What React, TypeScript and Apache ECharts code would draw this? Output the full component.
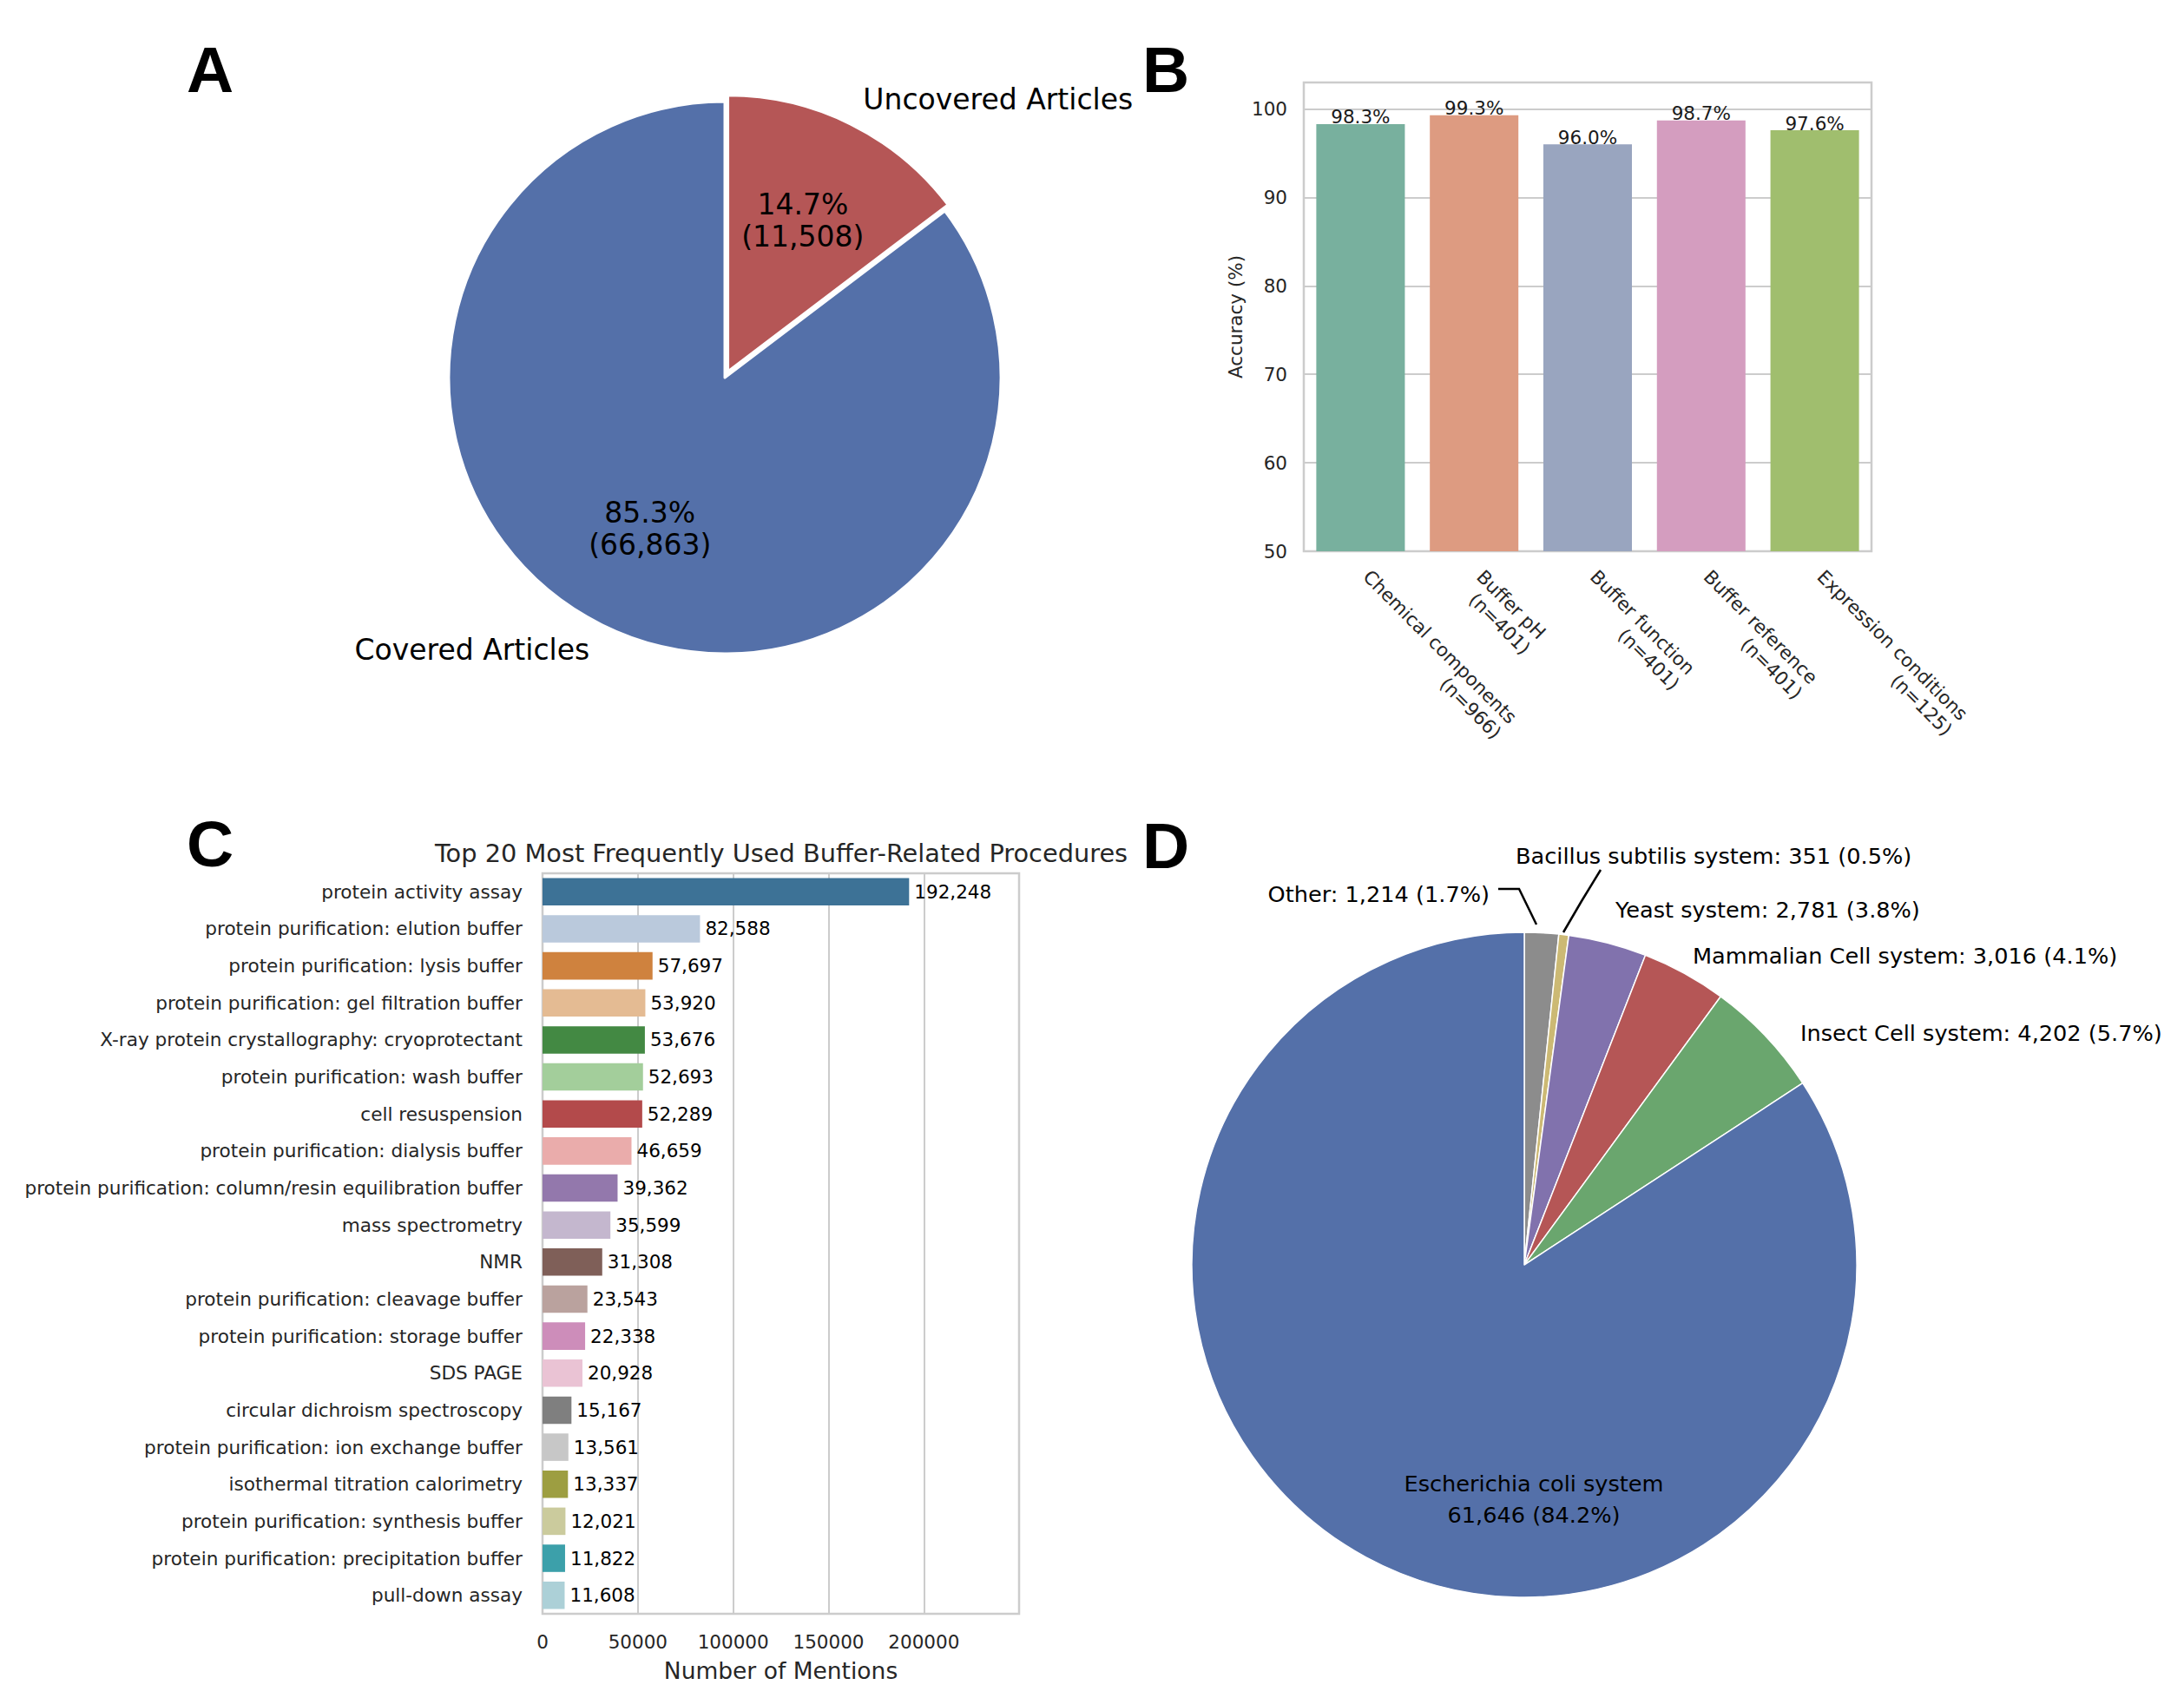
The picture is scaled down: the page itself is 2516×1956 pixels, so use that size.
import React, { useEffect, useRef } from 'react';
import * as echarts from 'echarts';

// ---------------- DATA ----------------
const A_NAMES = ['Uncovered Articles', 'Covered Articles'];
const A_VALUES = [11508, 66863];

const B_CATEGORIES = [
  'Chemical components\n(n=966)',
  'Buffer pH\n(n=401)',
  'Buffer function\n(n=401)',
  'Buffer reference\n(n=401)',
  'Expression conditions\n(n=125)',
];
const B_VALUES = [98.3, 99.3, 96.0, 98.7, 97.6];

const C_CATEGORIES = [
  'protein activity assay',
  'protein purification: elution buffer',
  'protein purification: lysis buffer',
  'protein purification: gel filtration buffer',
  'X-ray protein crystallography: cryoprotectant',
  'protein purification: wash buffer',
  'cell resuspension',
  'protein purification: dialysis buffer',
  'protein purification: column/resin equilibration buffer',
  'mass spectrometry',
  'NMR',
  'protein purification: cleavage buffer',
  'protein purification: storage buffer',
  'SDS PAGE',
  'circular dichroism spectroscopy',
  'protein purification: ion exchange buffer',
  'isothermal titration calorimetry',
  'protein purification: synthesis buffer',
  'protein purification: precipitation buffer',
  'pull-down assay',
];
const C_VALUES = [
  192248, 82588, 57697, 53920, 53676, 52693, 52289, 46659, 39362, 35599,
  31308, 23543, 22338, 20928, 15167, 13561, 13337, 12021, 11822, 11608,
];

const D_NAMES = [
  'Other',
  'Bacillus subtilis system',
  'Yeast system',
  'Mammalian Cell system',
  'Insect Cell system',
  'Escherichia coli system',
];
const D_VALUES = [1214, 351, 2781, 3016, 4202, 61646];

// ---------------- STYLE ----------------
const SET2 = ['#66c2a5', '#fc8d62', '#8da0cb', '#e78ac3', '#a6d854'];
const TAB20 = [
  '#1f77b4', '#aec7e8', '#ff7f0e', '#ffbb78', '#2ca02c', '#98df8a', '#d62728', '#ff9896',
  '#9467bd', '#c5b0d5', '#8c564b', '#c49c94', '#e377c2', '#f7b6d2', '#7f7f7f', '#c7c7c7',
  '#bcbd22', '#dbdb8d', '#17becf', '#9edae5',
];
const A_COLORS = ['#b55656', '#5470a9'];
const D_COLORS = ['#8c8c8c', '#ccb974', '#8172ad', '#b55656', '#6aa66e', '#5470a9'];
const BAR_SATURATION = 0.6;

function desat(hex: string, f: number): string {
  const r = parseInt(hex.slice(1, 3), 16) / 255;
  const g = parseInt(hex.slice(3, 5), 16) / 255;
  const b = parseInt(hex.slice(5, 7), 16) / 255;
  const mx = Math.max(r, g, b), mn = Math.min(r, g, b);
  const l = (mx + mn) / 2;
  if (mx === mn) return hex;
  const d = mx - mn;
  let s = l > 0.5 ? d / (2 - mx - mn) : d / (mx + mn);
  let h: number;
  if (mx === r) h = ((g - b) / d + (g < b ? 6 : 0)) / 6;
  else if (mx === g) h = ((b - r) / d + 2) / 6;
  else h = ((r - g) / d + 4) / 6;
  s *= f;
  const q = l < 0.5 ? l * (1 + s) : l + s - l * s;
  const p = 2 * l - q;
  const hue = (t: number) => {
    if (t < 0) t += 1;
    if (t > 1) t -= 1;
    if (t < 1 / 6) return p + (q - p) * 6 * t;
    if (t < 1 / 2) return q;
    if (t < 2 / 3) return p + (q - p) * (2 / 3 - t) * 6;
    return p;
  };
  const to = (v: number) => Math.round(v * 255).toString(16).padStart(2, '0');
  return '#' + to(hue(h + 1 / 3)) + to(hue(h)) + to(hue(h - 1 / 3));
}

const FONT = 'DejaVu Sans';
const TICK = '#262626';
const GRIDC = '#cccccc';

const A_CENTER = [835, 435];
const A_R = 318;
const D_CENTER = [1756, 1457];
const D_R = 383;

// label anchor offsets relative to the pie D centre (layout only)
const D_LABEL_LAYOUT: any[] = [
  { dx: -40, dy: -427, align: 'right', line: [[14, -392], [-6, -433], [-30, -433]] },
  { dx: -10, dy: -471, align: 'left', line: [[45, -383], [66, -419], [88, -455]] },
  { dx: 105, dy: -409, align: 'left' },
  { dx: 194, dy: -356, align: 'left' },
  { dx: 318, dy: -267, align: 'left' },
  { dx: 11, dy: 270, align: 'center' },
];

const fmt = (v: number) => v.toLocaleString('en-US');

function buildOption(): any {
  const aTotal = A_VALUES.reduce((s, v) => s + v, 0);
  const dTotal = D_VALUES.reduce((s, v) => s + v, 0);

  const aData = A_NAMES.map((n, i) => ({
    name: n,
    value: A_VALUES[i],
    selected: i === 0,
    itemStyle: { color: A_COLORS[i] },
  }));
  const aDataPct = A_NAMES.map((n, i) => ({
    name: n,
    value: A_VALUES[i],
    selected: i === 0,
  }));

  const dData = D_NAMES.map((n, i) => ({
    name: n,
    value: D_VALUES[i],
    itemStyle: { color: D_COLORS[i] },
    labelLine: { show: !!D_LABEL_LAYOUT[i].line },
  }));

  return {
    animation: false,
    backgroundColor: '#ffffff',
    textStyle: { fontFamily: FONT },
    grid: [
      {
        left: 1502, top: 95, width: 654, height: 540,
        show: true, borderColor: GRIDC, borderWidth: 2.5, backgroundColor: 'transparent',
      },
      {
        left: 625, top: 1006, width: 549, height: 853,
        show: true, borderColor: GRIDC, borderWidth: 2.5, backgroundColor: 'transparent',
      },
    ],
    xAxis: [
      {
        type: 'category',
        gridIndex: 0,
        data: B_CATEGORIES,
        axisLine: { show: false },
        axisTick: { show: false },
        axisLabel: {
          rotate: -45,
          align: 'left',
          verticalAlign: 'top',
          margin: 1,
          padding: [0, 0, 0, 22],
          interval: 0,
          formatter: (v: string) => v.split('\n').map((l) => `{r|${l}}`).join('\n'),
          rich: { r: { align: 'right', fontSize: 21.5, color: TICK, lineHeight: 25, fontFamily: FONT } },
        },
      },
      {
        type: 'value',
        gridIndex: 1,
        min: 0,
        max: 249922,
        interval: 50000,
        axisLine: { show: false },
        axisTick: { show: false },
        splitLine: { show: true, lineStyle: { color: GRIDC, width: 2 } },
        axisLabel: {
          fontSize: 21.5, color: TICK, margin: 21, showMaxLabel: false,
          formatter: (v: number) => String(v),
        },
        name: 'Number of Mentions',
        nameLocation: 'middle',
        nameGap: 52,
        nameTextStyle: { fontSize: 26.5, color: TICK },
      },
    ],
    yAxis: [
      {
        type: 'value',
        gridIndex: 0,
        min: 50,
        max: 103,
        interval: 10,
        axisLine: { show: false },
        axisTick: { show: false },
        splitLine: { show: true, lineStyle: { color: GRIDC, width: 2 } },
        axisLabel: { fontSize: 21.5, color: TICK, margin: 19, showMaxLabel: false },
        name: 'Accuracy (%)',
        nameLocation: 'middle',
        nameGap: 68,
        nameTextStyle: { fontSize: 21.5, color: TICK },
      },
      {
        type: 'category',
        gridIndex: 1,
        data: C_CATEGORIES,
        inverse: true,
        axisLine: { show: false },
        axisTick: { show: false },
        axisLabel: { fontSize: 21.6, color: TICK, margin: 23, interval: 0 },
      },
    ],
    graphic: [
      { type: 'text', x: 215, y: 80, style: { text: 'A', fontFamily: 'Liberation Sans', fontWeight: 'bold', fontSize: 75, fill: '#000', verticalAlign: 'middle' } },
      { type: 'text', x: 1316, y: 80, style: { text: 'B', fontFamily: 'Liberation Sans', fontWeight: 'bold', fontSize: 75, fill: '#000', verticalAlign: 'middle' } },
      { type: 'text', x: 215, y: 972, style: { text: 'C', fontFamily: 'Liberation Sans', fontWeight: 'bold', fontSize: 75, fill: '#000', verticalAlign: 'middle' } },
      { type: 'text', x: 1316, y: 974, style: { text: 'D', fontFamily: 'Liberation Sans', fontWeight: 'bold', fontSize: 75, fill: '#000', verticalAlign: 'middle' } },
      {
        type: 'text', x: 900, y: 983,
        style: {
          text: 'Top 20 Most Frequently Used Buffer-Related Procedures',
          fontFamily: FONT, fontSize: 28.8, fill: TICK, align: 'center', verticalAlign: 'middle',
        },
      },
    ],
    series: [
      // Panel A – pie with outside names
      {
        type: 'pie',
        silent: true,
        center: A_CENTER,
        radius: A_R,
        startAngle: 90,
        clockwise: true,
        selectedMode: 'single',
        selectedOffset: 8,
        avoidLabelOverlap: false,
        itemStyle: { borderColor: '#ffffff', borderWidth: 3 },
        label: {
          show: true, position: 'outside', formatter: '{b}', fontSize: 33, color: '#000',
          distanceToLabelLine: 0,
        },
        labelLine: { show: false, length: 32, length2: 0 },
        emphasis: { disabled: true },
        data: aData,
      },
      // Panel A – percentage labels (transparent overlay so inside label sits at 0.6 r)
      {
        type: 'pie',
        silent: true,
        center: A_CENTER,
        radius: (A_R * 0.6) / 0.5,
        startAngle: 90,
        clockwise: true,
        selectedMode: 'single',
        selectedOffset: 8,
        avoidLabelOverlap: false,
        itemStyle: { color: 'rgba(0,0,0,0)', borderWidth: 0 },
        label: {
          show: true, position: 'inside', fontSize: 33, color: '#000', lineHeight: 37,
          formatter: (p: any) => `${((p.value / aTotal) * 100).toFixed(1)}%\n(${fmt(p.value)})`,
        },
        labelLine: { show: false },
        emphasis: { disabled: true },
        data: aDataPct,
      },
      // Panel B – accuracy bars
      {
        type: 'bar',
        xAxisIndex: 0,
        yAxisIndex: 0,
        barWidth: '78%',
        silent: true,
        data: B_VALUES.map((v, i) => ({ value: v, itemStyle: { color: desat(SET2[i], BAR_SATURATION) } })),
        label: {
          show: true, position: 'top', distance: -3, fontSize: 21.5, color: '#1a1a1a',
          formatter: (p: any) => `${Number(p.value).toFixed(1)}%`,
        },
      },
      // Panel C – horizontal bars
      {
        type: 'bar',
        xAxisIndex: 1,
        yAxisIndex: 1,
        barWidth: '74%',
        silent: true,
        data: C_VALUES.map((v, i) => ({ value: v, itemStyle: { color: desat(TAB20[i], BAR_SATURATION) } })),
        label: {
          show: true, position: 'right', distance: 6, fontSize: 21.5, color: '#000',
          formatter: (p: any) => fmt(p.value),
        },
      },
      // Panel D – expression systems pie
      {
        type: 'pie',
        silent: true,
        center: D_CENTER,
        radius: D_R,
        startAngle: 90,
        clockwise: true,
        avoidLabelOverlap: false,
        itemStyle: { borderColor: '#ffffff', borderWidth: 1.5 },
        label: {
          show: true, position: 'outside', fontSize: 25.6, color: '#000', lineHeight: 36,
          formatter: (p: any) => {
            const pct = ((p.value / dTotal) * 100).toFixed(1);
            return p.dataIndex === D_NAMES.length - 1
              ? `${p.name}\n${fmt(p.value)} (${pct}%)`
              : `${p.name}: ${fmt(p.value)} (${pct}%)`;
          },
        },
        labelLine: { show: false, lineStyle: { color: '#000', width: 2.5 } },
        labelLayout: (params: any) => {
          const L = D_LABEL_LAYOUT[params.dataIndex];
          const res: any = {
            x: D_CENTER[0] + L.dx,
            y: D_CENTER[1] + L.dy,
            align: L.align,
            verticalAlign: 'middle',
          };
          if (L.line) {
            res.labelLinePoints = L.line.map((pt: number[]) => [D_CENTER[0] + pt[0], D_CENTER[1] + pt[1]]);
          }
          return res;
        },
        emphasis: { disabled: true },
        data: dData,
      },
    ],
  };
}

export default function App() {
  const ref = useRef<HTMLDivElement>(null);
  useEffect(() => {
    if (!ref.current) return;
    const chart = echarts.init(ref.current, null, { renderer: 'svg', width: 2516, height: 1956 });
    chart.setOption(buildOption());
    return () => chart.dispose();
  }, []);
  return (
    <div
      ref={ref}
      style={{ position: 'fixed', left: 0, top: 0, width: 2516, height: 1956, background: '#ffffff' }}
    />
  );
}
